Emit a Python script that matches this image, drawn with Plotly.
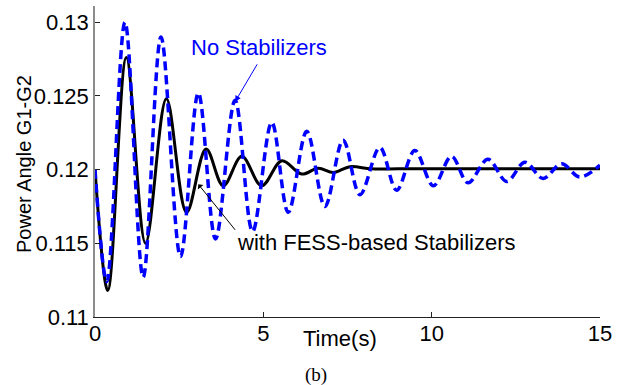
import plotly.graph_objects as go

# Blue dashed: No Stabilizers (extrema)
t_nostab = [0.0, 0.35, 0.89, 1.43, 1.96, 2.54, 3.07, 3.58, 4.16, 4.68, 5.25, 5.74,
            6.29, 6.83, 7.37, 7.87, 8.46, 8.96, 9.50, 10.05, 10.59, 11.08, 11.67,
            12.23, 12.77, 13.31, 13.86, 14.40, 15.0]
v_nostab = [0.1200, 0.1124, 0.1300, 0.1127, 0.1290, 0.1141, 0.1252, 0.1153, 0.1247,
            0.1158, 0.1232, 0.1171, 0.1226, 0.1175, 0.1220, 0.1183, 0.1215, 0.1186,
            0.1213, 0.1189, 0.1209, 0.1191, 0.1207, 0.1192, 0.1205, 0.1194, 0.1204,
            0.1195, 0.1203]

# Black solid: with FESS-based Stabilizers
t_fess = [0.0, 0.38, 0.93, 1.50, 2.12, 2.72, 3.30, 3.81, 4.36, 4.95, 5.55, 6.14,
          6.63, 7.08, 7.57, 8.2, 9.0, 10.0, 11.0, 12.0, 13.0, 14.0, 15.0]
v_fess = [0.1200, 0.1118, 0.1276, 0.1150, 0.1248, 0.1171, 0.1214, 0.1189, 0.1209,
          0.1189, 0.1206, 0.1197, 0.1201, 0.1198, 0.1202, 0.12005, 0.12005, 0.12005,
          0.12005, 0.12005, 0.12005, 0.12005, 0.12005]

x_ticks = [0, 5, 10, 15]
y_ticks = [0.11, 0.115, 0.12, 0.125, 0.13]
y_tick_labels = ["0.11", "0.115", "0.12", "0.125", "0.13"]

FONT = "Liberation Sans, Arial, sans-serif"

fig = go.Figure()
fig.add_trace(go.Scatter(x=t_fess, y=v_fess, mode="lines",
                         line=dict(color="black", width=3, shape="spline", smoothing=1),
                         showlegend=False))
fig.add_trace(go.Scatter(x=t_nostab, y=v_nostab, mode="lines",
                         line=dict(color="#0000FF", width=3.5, dash="9px,5px",
                                   shape="spline", smoothing=1),
                         showlegend=False))

fig.update_layout(
    width=632, height=385,
    margin=dict(l=95, r=32, t=6, b=68),
    paper_bgcolor="white", plot_bgcolor="white",
    font=dict(family=FONT, size=22, color="black"),
    xaxis=dict(range=[0, 15], tickvals=x_ticks, ticks="inside", ticklen=5,
               tickcolor="#222", showline=True, linecolor="#222", linewidth=1.2,
               showgrid=False, zeroline=False, ticklabelstandoff=-4,
               tickfont=dict(family=FONT, size=22), automargin=False),
    yaxis=dict(range=[0.11, 0.1311], tickvals=y_ticks, ticktext=y_tick_labels,
               ticks="inside", ticklen=5, tickcolor="#222", showline=True,
               linecolor="#8c8c8c", linewidth=1.5, showgrid=False, zeroline=False,
               ticklabelstandoff=0, tickfont=dict(family=FONT, size=22),
               automargin=False),
    annotations=[
        dict(text="No Stabilizers", x=4.86, y=0.12827, xref="x", yref="y",
             xanchor="center", yanchor="middle",
             showarrow=False, font=dict(color="#0000FF", size=22, family=FONT)),
        dict(text="", x=4.16, y=0.1246, xref="x", yref="y", showarrow=True,
             ax=23, ay=-39, arrowhead=2, arrowsize=1.2, arrowwidth=1,
             arrowcolor="#0000FF"),
        dict(text="with FESS-based Stabilizers", x=8.375, y=0.11505, xref="x",
             yref="y", xanchor="center", yanchor="middle",
             showarrow=False, font=dict(color="black", size=22, family=FONT)),
        dict(text="", x=3.07, y=0.1190, xref="x", yref="y", showarrow=True,
             ax=38, ay=47, arrowhead=1, arrowsize=1.2, arrowwidth=1,
             arrowcolor="black"),
        dict(text="Time(s)", x=0.485, y=-0.0707, xref="paper", yref="paper",
             xanchor="center", yanchor="middle",
             showarrow=False, font=dict(size=22, family=FONT)),
        dict(text="Power Angle G1-G2", x=-0.1406, y=0.492, xref="paper", yref="paper",
             xanchor="center", yanchor="middle",
             showarrow=False, textangle=-90, font=dict(size=20, family=FONT)),
        dict(text="(b)", x=0.4376, y=-0.1865, xref="paper", yref="paper",
             xanchor="center", yanchor="middle",
             showarrow=False, font=dict(size=19, family="Liberation Serif, Times New Roman, serif")),
    ],
)

fig.write_html("out.html", config={"displayModeBar": False},
               post_script="document.body.style.margin='0';")
